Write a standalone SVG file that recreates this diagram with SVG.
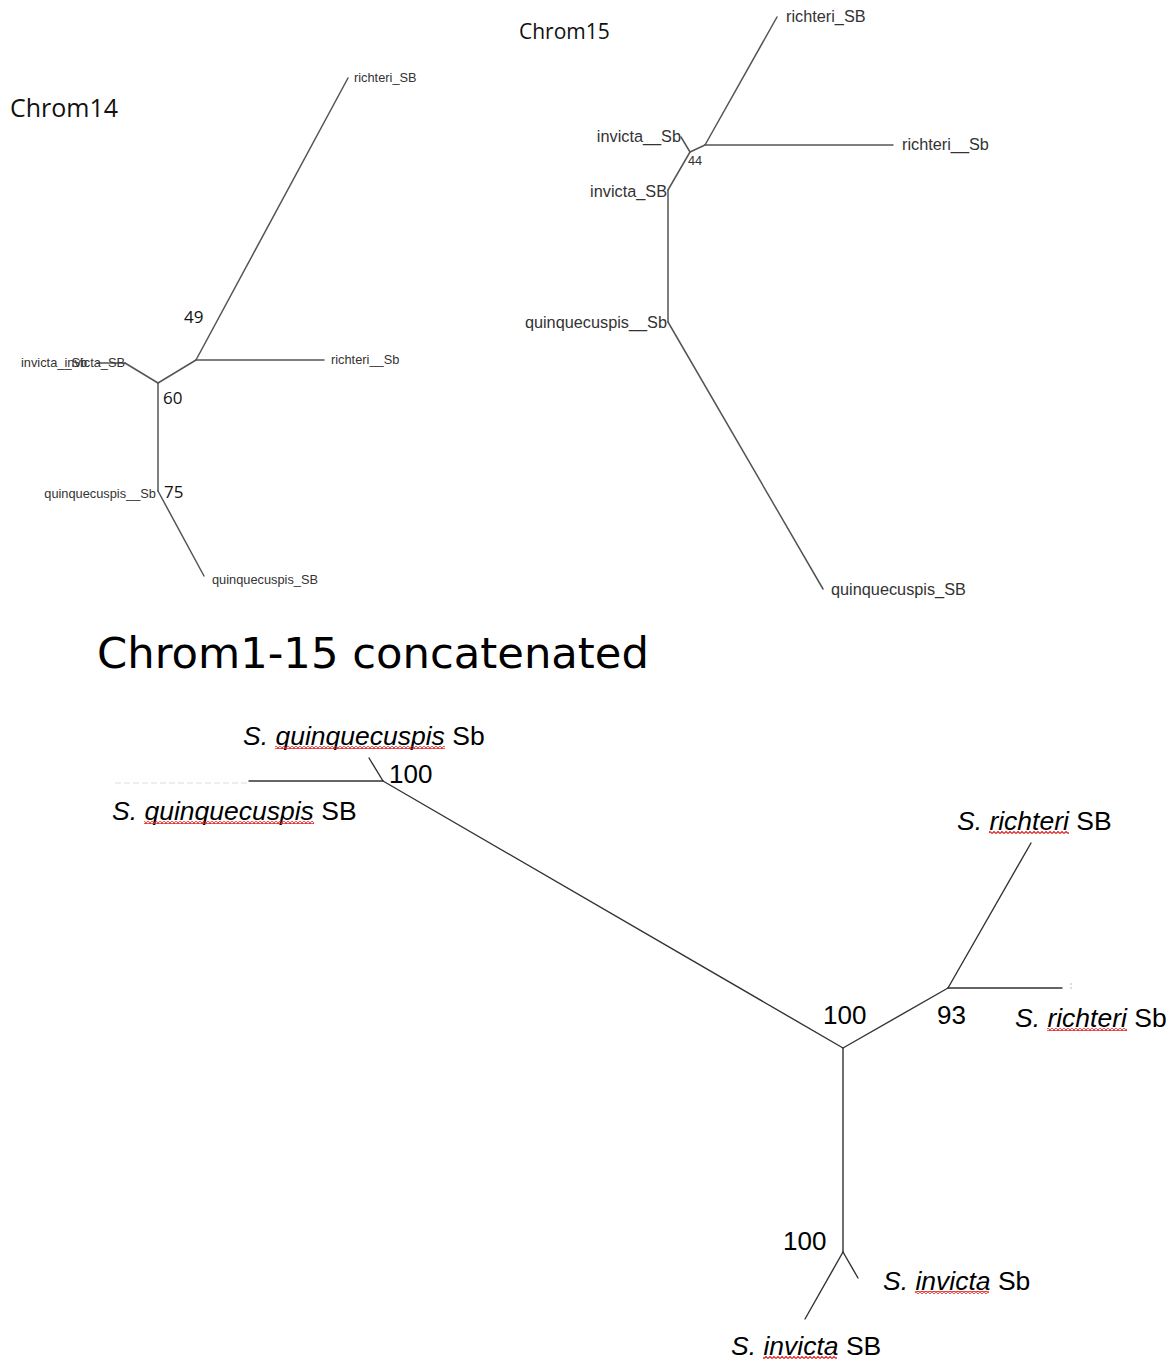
<svg xmlns="http://www.w3.org/2000/svg" width="1171" height="1363" viewBox="0 0 1171 1363">
  <style>
    .br { stroke: #555; stroke-width: 1.5; fill: none; stroke-linecap: round; }
    .brd { stroke: #333; stroke-width: 1.4; fill: none; stroke-linecap: round; }
    .title { font-family: "Open Sans", "Liberation Sans", sans-serif; fill: #111; }
    .big { font-family: "DejaVu Sans", sans-serif; font-size: 43.3px; fill: #000; }
    .lab14 { font-family: "Liberation Sans", Arial, sans-serif; font-size: 12.8px; fill: #333; }
    .lab15 { font-family: "Liberation Sans", Arial, sans-serif; font-size: 16.3px; fill: #333; }
    .bs { font-family: "Open Sans", "Liberation Sans", sans-serif; font-size: 17px; fill: #111; }
    .sp { font-family: "Liberation Sans", Arial, sans-serif; font-size: 26.5px; fill: #000; }
    .num { font-family: "Liberation Sans", Arial, sans-serif; font-size: 26px; fill: #000; }
    .it { font-style: italic; }
  </style>
  <defs>
    <!-- zigzag used for the red spell-check underline -->
    <pattern id="wave" x="0" y="0" width="4" height="3" patternUnits="userSpaceOnUse">
      <path d="M0,2.5 L2,0.5 L4,2.5" fill="none" stroke="#e02020" stroke-width="1.2"/>
    </pattern>
  </defs>
  <rect width="1171" height="1363" fill="#fff"/>

  <!-- ===== Chrom14 ===== -->
  <text class="title" x="10" y="117" font-size="25">Chrom14</text>
  <g id="chrom14-edges">
    <line class="br" x1="158" y1="383" x2="196" y2="360"/>
    <line class="br" x1="158" y1="383" x2="125" y2="363"/>
    <line class="br" x1="97" y1="363" x2="125" y2="363"/>
    <line class="br" x1="196" y1="360" x2="324" y2="360"/>
    <line class="br" x1="196" y1="360" x2="348" y2="78"/>
    <line class="br" x1="158" y1="383" x2="158" y2="491"/>
    <line class="br" x1="158" y1="491" x2="204" y2="576"/>
  </g>
  <g id="c14-richteri-SB"><text class="lab14" x="354" y="82">richteri_SB</text></g>
  <g id="c14-richteri-Sb"><text class="lab14" x="331" y="364">richteri__Sb</text></g>
  <g id="c14-invicta-Sb"><text class="lab14" x="21" y="367">invicta__Sb</text></g>
  <g id="c14-invicta-SB"><text class="lab14" x="125" y="367" text-anchor="end">invicta_SB</text></g>
  <g id="c14-quinq-Sb"><text class="lab14" x="156" y="498" text-anchor="end">quinquecuspis__Sb</text></g>
  <g id="c14-quinq-SB"><text class="lab14" x="212" y="584">quinquecuspis_SB</text></g>
  <g id="c14-support">
    <text class="bs" x="184" y="323">49</text>
    <text class="bs" x="163" y="404">60</text>
    <text class="bs" x="164" y="498">75</text>
  </g>

  <!-- ===== Chrom15 ===== -->
  <text class="title" x="519" y="39" font-size="21">Chrom15</text>
  <g id="chrom15-edges">
    <line class="br" x1="705" y1="145" x2="777" y2="17"/>
    <line class="br" x1="705" y1="145" x2="893" y2="145"/>
    <line class="br" x1="705" y1="145" x2="690" y2="152"/>
    <line class="br" x1="690" y1="152" x2="681" y2="137"/>
    <line class="br" x1="690" y1="152" x2="668" y2="190"/>
    <line class="br" x1="668" y1="190" x2="668" y2="322"/>
    <line class="br" x1="668" y1="322" x2="823" y2="589"/>
  </g>
  <g id="c15-richteri-SB"><text class="lab15" x="786" y="22">richteri_SB</text></g>
  <g id="c15-richteri-Sb"><text class="lab15" x="902" y="150">richteri__Sb</text></g>
  <g id="c15-invicta-Sb"><text class="lab15" x="681" y="142" text-anchor="end">invicta__Sb</text></g>
  <g id="c15-invicta-SB"><text class="lab15" x="667" y="197" text-anchor="end">invicta_SB</text></g>
  <g id="c15-quinq-Sb"><text class="lab15" x="667" y="328" text-anchor="end">quinquecuspis__Sb</text></g>
  <g id="c15-quinq-SB"><text class="lab15" x="831" y="595">quinquecuspis_SB</text></g>
  <g id="c15-support">
    <text class="lab14" x="688" y="165" font-size="13">44</text>
  </g>

  <!-- ===== Concatenated tree ===== -->
  <text class="big" x="97" y="668">Chrom1-15 concatenated</text>
  <g id="concat-edges">
    <line class="brd" x1="843" y1="1048" x2="383" y2="781"/>
    <line class="brd" x1="383" y1="781" x2="369" y2="758"/>
    <line class="brd" x1="383" y1="781" x2="249" y2="781"/>
    <line x1="115" y1="783" x2="249" y2="783" stroke="#ddd" stroke-width="1" stroke-dasharray="6 3"/>
    <line class="brd" x1="843" y1="1048" x2="948" y2="988"/>
    <line class="brd" x1="948" y1="988" x2="1031" y2="843"/>
    <line class="brd" x1="948" y1="988" x2="1062" y2="988"/>
    <line x1="1071" y1="983" x2="1071" y2="989" stroke="#bbb" stroke-width="1" stroke-dasharray="2 2"/>
    <line class="brd" x1="843" y1="1048" x2="843" y2="1252"/>
    <line class="brd" x1="843" y1="1252" x2="858" y2="1278"/>
    <line class="brd" x1="843" y1="1252" x2="805" y2="1319"/>
  </g>
  <g id="quinq-Sb">
    <text class="sp" x="243" y="745"><tspan class="it">S. quinquecuspis</tspan> Sb</text>
    <rect x="275" y="746" width="170" height="3" fill="url(#wave)"/>
  </g>
  <g id="quinq-SB">
    <text class="sp" x="112" y="820"><tspan class="it">S. quinquecuspis</tspan> SB</text>
    <rect x="144" y="821" width="170" height="3" fill="url(#wave)"/>
  </g>
  <g id="richteri-SB">
    <text class="sp" x="957" y="830"><tspan class="it">S. richteri</tspan> SB</text>
    <rect x="989" y="831" width="80" height="3" fill="url(#wave)"/>
  </g>
  <g id="richteri-Sb">
    <text class="sp" x="1015" y="1027"><tspan class="it">S. richteri</tspan> Sb</text>
    <rect x="1047" y="1028" width="80" height="3" fill="url(#wave)"/>
  </g>
  <g id="invicta-Sb">
    <text class="sp" x="883" y="1290"><tspan class="it">S. invicta</tspan> Sb</text>
    <rect x="915" y="1291" width="74" height="3" fill="url(#wave)"/>
  </g>
  <g id="invicta-SB">
    <text class="sp" x="731" y="1355"><tspan class="it">S. invicta</tspan> SB</text>
    <rect x="763" y="1356" width="74" height="3" fill="url(#wave)"/>
  </g>
  <g id="concat-support">
    <text class="num" x="389" y="783">100</text>
    <text class="num" x="823" y="1024">100</text>
    <text class="num" x="937" y="1024">93</text>
    <text class="num" x="783" y="1250">100</text>
  </g>
</svg>
